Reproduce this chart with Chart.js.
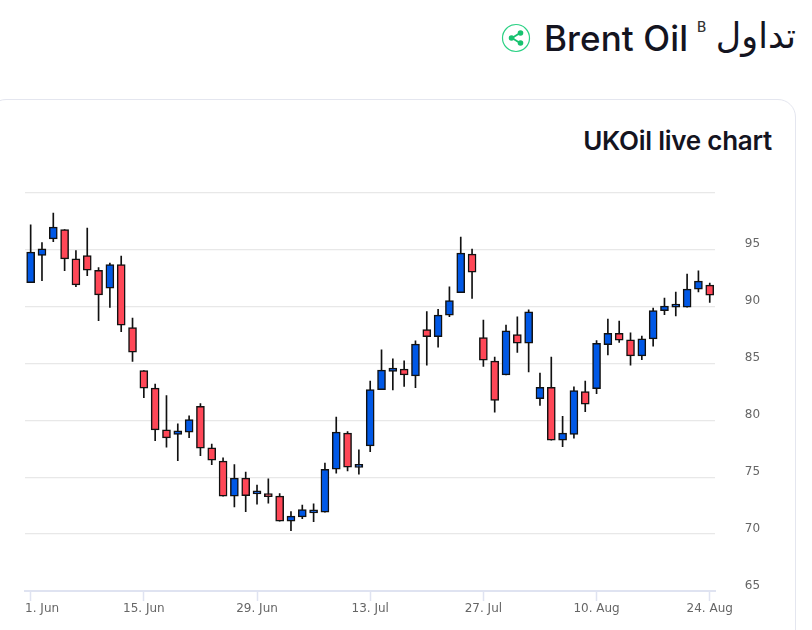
<!DOCTYPE html>
<html>
<head>
<meta charset="utf-8">
<script src="https://cdn.jsdelivr.net/npm/chart.js@4"></script>
<style>
html, body { margin: 0; padding: 0; background: #fff; overflow: hidden; }
body { width: 812px; height: 630px; position: relative; font-family: Inter, "DejaVu Sans", sans-serif; color: #14141f; }
#card { position: absolute; left: -12px; top: 99px; width: 806px; height: 620px; border: 1px solid #e4e6ef; border-radius: 18px; }
.txt { position: absolute; white-space: nowrap; }
#brent { left: 544px; top: 15px; font-size: 35px; font-weight: 500; line-height: 46px; letter-spacing: 0.1px; }
#sup { left: 697px; top: 18px; font-size: 14px; font-weight: 500; line-height: 18px; color: #333; }
#trade { right: 16px; top: 10px; font-family: "DejaVu Sans", sans-serif; font-size: 35px; line-height: 52px; direction: rtl; }
#live { right: 40px; top: 124px; font-size: 26px; font-weight: 600; line-height: 34px; letter-spacing: -0.25px; }
#share { position: absolute; left: 501px; top: 23px; }
#myChart { position: absolute; left: 0; top: 0; }
</style>
</head>
<body>
<div id="card"></div>
<svg id="share" width="30" height="30" viewBox="0 0 30 30">
  <circle cx="15" cy="15" r="13.5" fill="none" stroke="#2bd184" stroke-width="1.2"/>
  <path d="M19 10 L11 15 L19 20" fill="none" stroke="#17c26f" stroke-width="1.8"/>
  <circle cx="19.5" cy="10" r="2.8" fill="#17c26f"/>
  <circle cx="10.5" cy="15" r="2.8" fill="#17c26f"/>
  <circle cx="19.5" cy="20" r="2.8" fill="#17c26f"/>
</svg>
<div class="txt" id="brent">Brent Oil</div>
<div class="txt" id="sup">B</div>
<div class="txt" id="trade">تداول</div>
<div class="txt" id="live">UKOil live chart</div>
<canvas id="myChart" width="812" height="630"></canvas>
<script>
const days = [
    '1. Jun', '2. Jun', '3. Jun', '6. Jun', '7. Jun', '8. Jun', '9. Jun', '10. Jun', '13. Jun', '14. Jun',
    '15. Jun', '16. Jun', '17. Jun', '20. Jun', '21. Jun', '22. Jun', '23. Jun', '24. Jun', '27. Jun', '28. Jun',
    '29. Jun', '30. Jun', '1. Jul', '4. Jul', '5. Jul', '6. Jul', '7. Jul', '8. Jul', '11. Jul', '12. Jul',
    '13. Jul', '14. Jul', '15. Jul', '18. Jul', '19. Jul', '20. Jul', '21. Jul', '22. Jul', '25. Jul', '26. Jul',
    '27. Jul', '28. Jul', '29. Jul', '1. Aug', '2. Aug', '3. Aug', '4. Aug', '5. Aug', '8. Aug', '9. Aug',
    '10. Aug', '11. Aug', '12. Aug', '15. Aug', '16. Aug', '17. Aug', '18. Aug', '19. Aug', '22. Aug', '23. Aug',
    '24. Aug'
];
const opens = [
    92.12, 94.50, 95.97, 96.79, 94.21, 94.50, 93.21, 91.63, 93.71, 88.17,
    84.38, 82.84, 79.17, 78.76, 78.97, 81.25, 77.59, 76.42, 73.34, 74.92,
    73.54, 73.54, 73.34, 71.14, 71.52, 71.87, 71.93, 75.71, 78.88, 75.87,
    77.76, 82.71, 84.30, 84.51, 83.92, 87.99, 87.37, 89.26, 91.24, 94.62,
    87.29, 85.21, 84.01, 87.55, 86.79, 81.92, 82.92, 78.26, 78.76, 82.54,
    82.80, 86.67, 87.67, 87.08, 85.68, 87.17, 89.66, 89.96, 89.96, 91.54,
    91.90
];
const closes = [
    94.80, 95.09, 97.00, 94.21, 91.92, 93.21, 91.04, 93.71, 88.38, 86.00,
    82.84, 79.17, 78.47, 79.08, 80.08, 77.56, 76.50, 73.34, 74.92, 73.39,
    73.63, 73.30, 71.14, 71.58, 72.16, 71.96, 75.71, 78.97, 75.89, 75.92,
    82.71, 84.42, 84.60, 84.01, 86.71, 87.37, 89.26, 90.54, 94.71, 93.04,
    85.30, 81.75, 87.88, 86.79, 89.55, 82.92, 78.26, 78.88, 82.63, 81.43,
    86.79, 87.67, 87.06, 85.68, 87.17, 89.66, 90.05, 90.05, 91.54, 92.25,
    91.02
];
const highs = [
    97.20, 95.64, 98.23, 96.79, 94.94, 96.91, 93.44, 93.83, 94.45, 88.99,
    84.38, 83.19, 82.19, 79.70, 80.40, 81.48, 77.91, 76.71, 76.12, 75.45,
    74.31, 74.86, 73.57, 71.98, 72.55, 72.66, 76.24, 80.29, 79.02, 77.41,
    83.45, 86.21, 85.41, 85.24, 87.00, 89.57, 89.78, 91.75, 96.12, 95.06,
    88.82, 85.56, 88.38, 89.11, 89.72, 84.16, 85.56, 80.37, 82.95, 83.45,
    87.02, 88.91, 88.73, 87.70, 87.41, 89.87, 90.75, 91.28, 92.86, 93.15,
    92.07
];
const lows = [
    92.12, 92.30, 95.73, 93.18, 91.77, 92.74, 88.78, 89.93, 87.81, 85.18,
    82.01, 78.23, 77.65, 76.47, 78.49, 76.91, 76.12, 73.34, 72.40, 71.98,
    72.63, 72.72, 71.14, 70.31, 71.37, 71.10, 71.93, 75.36, 75.56, 75.27,
    77.26, 82.71, 82.69, 82.98, 82.89, 84.86, 86.44, 89.13, 91.24, 90.72,
    84.74, 80.73, 84.01, 85.97, 84.27, 81.31, 78.26, 77.70, 78.44, 80.78,
    82.36, 85.77, 86.85, 84.86, 85.35, 86.53, 89.31, 89.20, 89.96, 91.31,
    90.37
];
const BLUE = '#0058e6';
const RED = '#ff4757';
const AXIS = '#dfe3f1';

const ctx = document.getElementById('myChart');
const PLOT = new Chart(ctx, {
    type: 'bar',
    data: {
        labels: days,
        datasets: [{
            label: 'Wick',
            data: days.map((d, i) => [lows[i], highs[i]]),
            backgroundColor: '#111',
            barThickness: 1,
            grouped: false,
            order: 2
        }, {
            label: 'Body',
            data: days.map((d, i) => [opens[i], closes[i]]),
            backgroundColor: days.map((d, i) => closes[i] >= opens[i] ? BLUE : RED),
            borderColor: '#111',
            borderWidth: 1.5,
            borderSkipped: false,
            barThickness: 8,
            minBarLength: 3,
            grouped: false,
            order: 1
        }]
    },
    options: {
        responsive: false,
        animation: false,
        layout: { padding: { left: 25, top: 193 } },
        plugins: { legend: { display: false }, tooltip: { enabled: false } },
        scales: {
            x: {
                offset: true,
                grid: { offset: false, drawOnChartArea: false, tickLength: 10, tickColor: AXIS, tickWidth: 1.5 },
                border: { color: AXIS, width: 2 },
                afterBuildTicks: (scale) => { scale.ticks = scale.ticks.filter(t => t.value % 10 === 0); },
                afterFit: (scale) => { scale.height = 39; },
                ticks: {
                    autoSkip: false,
                    maxRotation: 0,
                    padding: 1,
                    color: '#666',
                    font: { family: 'DejaVu Sans', size: 12 },
                    // the first label is pushed inside the plot, the rest sit centred on their tick
                    callback: function (value) {
                        const text = this.getLabelForValue(value);
                        return value === 0 ? '\u00a0'.repeat(6) + text : text;
                    }
                }
            },
            y: {
                position: 'right',
                min: 65,
                max: 100,
                afterFit: (scale) => { scale.width = 96.6; },
                grid: { color: '#e8e8e8', lineWidth: 1.3, drawTicks: false },
                border: { display: false },
                ticks: {
                    stepSize: 5,
                    padding: 29.4,
                    labelOffset: -5.5,
                    color: '#666',
                    font: { family: 'DejaVu Sans', size: 12 },
                    callback: (value) => value === 100 ? '' : value
                }
            }
        }
    }
});
</script>
</body>
</html>
